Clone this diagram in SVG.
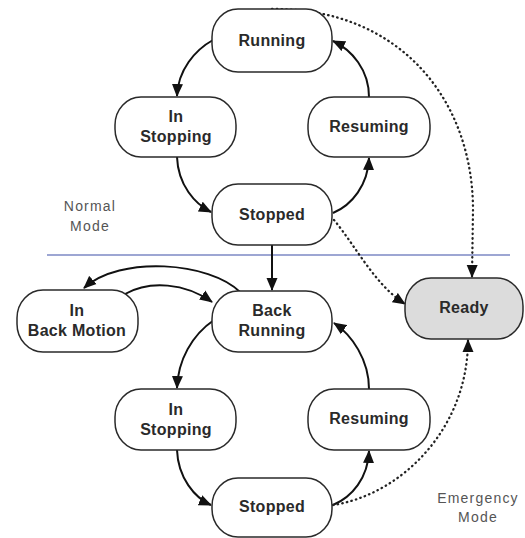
<svg xmlns="http://www.w3.org/2000/svg" width="525" height="538" viewBox="0 0 525 538">
<style>
.n{fill:#fff;stroke:#2a2a2a;stroke-width:1.5}
.r{fill:#dcdcdc;stroke:#2a2a2a;stroke-width:1.5}
.t{font-family:"Liberation Sans",Arial,sans-serif;font-weight:bold;font-size:16px;letter-spacing:0.3px;fill:#2a2a2a;text-anchor:middle}
.l{font-family:"Liberation Sans",Arial,sans-serif;font-size:14px;letter-spacing:1.2px;fill:#555;text-anchor:middle}
.s{fill:none;stroke:#111;stroke-width:2}
.d{fill:none;stroke:#222;stroke-width:2.3;stroke-dasharray:0.5 4.2;stroke-linecap:round}
</style>
<defs>
<marker id="ah" markerUnits="userSpaceOnUse" markerWidth="13" markerHeight="12" viewBox="0 0 13 11" refX="12" refY="5.5" orient="auto">
<path d="M0,0 L13,5.5 L0,11 z" fill="#111"/>
</marker>
</defs>
<line x1="47" y1="255" x2="510" y2="255" stroke="#3c4fa8" stroke-width="1.2"/>
<g id="connectors">
<path class="s" marker-end="url(#ah)" d="M213,40 C195,50 178,70 177,96"/>
<path class="s" marker-end="url(#ah)" d="M177,157 C178,185 195,204 211,212"/>
<path class="s" marker-end="url(#ah)" d="M333,213 C352,205 368,185 369,158"/>
<path class="s" marker-end="url(#ah)" d="M369,97 C369,70 352,50 333,41"/>
<path class="s" marker-end="url(#ah)" d="M272,245 L272,290"/>
<path class="s" marker-end="url(#ah)" d="M240,292 C210,262 120,255 84,288"/>
<path class="s" marker-end="url(#ah)" d="M125,294 C150,280 185,283 212,302"/>
<path class="s" marker-end="url(#ah)" d="M214,320 C192,335 178,360 177,388"/>
<path class="s" marker-end="url(#ah)" d="M177,450 C178,478 195,498 211,505"/>
<path class="s" marker-end="url(#ah)" d="M333,505 C352,497 368,478 369,451"/>
<path class="s" marker-end="url(#ah)" d="M369,389 C369,360 352,335 334,323"/>
<path class="d" marker-end="url(#ah)" d="M272,9 C400,8 473,100 473,210 L472,277"/>
<path class="d" marker-end="url(#ah)" d="M334,220 C355,245 375,285 405,304"/>
<path class="d" marker-end="url(#ah)" d="M333,505 C400,495 468,430 468,340"/>
</g>
<g id="running"><rect class="n" x="212" y="9" width="120" height="63" rx="26" ry="28"/><text class="t" x="272" y="46">Running</text></g>
<g id="in-stopping-1"><rect class="n" x="115" y="97" width="121" height="60" rx="26" ry="28"/><text class="t" x="176" y="122">In</text><text class="t" x="176" y="142">Stopping</text></g>
<g id="resuming-1"><rect class="n" x="308" y="97" width="122" height="60" rx="26" ry="28"/><text class="t" x="369" y="132">Resuming</text></g>
<g id="stopped-1"><rect class="n" x="212" y="184" width="120" height="61" rx="26" ry="28"/><text class="t" x="272" y="220">Stopped</text></g>
<g id="normal-mode"><text class="l" x="90" y="211">Normal</text><text class="l" x="90" y="231">Mode</text></g>
<g id="in-back-motion"><rect class="n" x="17" y="290" width="121" height="62" rx="26" ry="28"/><text class="t" x="77" y="316">In</text><text class="t" x="77" y="336">Back Motion</text></g>
<g id="back-running"><rect class="n" x="212" y="291" width="120" height="61" rx="26" ry="28"/><text class="t" x="272" y="316">Back</text><text class="t" x="272" y="336">Running</text></g>
<g id="ready"><rect class="r" x="405" y="278" width="118" height="61" rx="26" ry="28"/><text class="t" x="464" y="313">Ready</text></g>
<g id="in-stopping-2"><rect class="n" x="115" y="389" width="121" height="61" rx="26" ry="28"/><text class="t" x="176" y="415">In</text><text class="t" x="176" y="435">Stopping</text></g>
<g id="resuming-2"><rect class="n" x="308" y="389" width="122" height="61" rx="26" ry="28"/><text class="t" x="369" y="424">Resuming</text></g>
<g id="stopped-2"><rect class="n" x="212" y="478" width="120" height="59" rx="26" ry="28"/><text class="t" x="272" y="512">Stopped</text></g>
<g id="emergency-mode"><text class="l" x="478" y="503">Emergency</text><text class="l" x="478" y="522">Mode</text></g>
</svg>
